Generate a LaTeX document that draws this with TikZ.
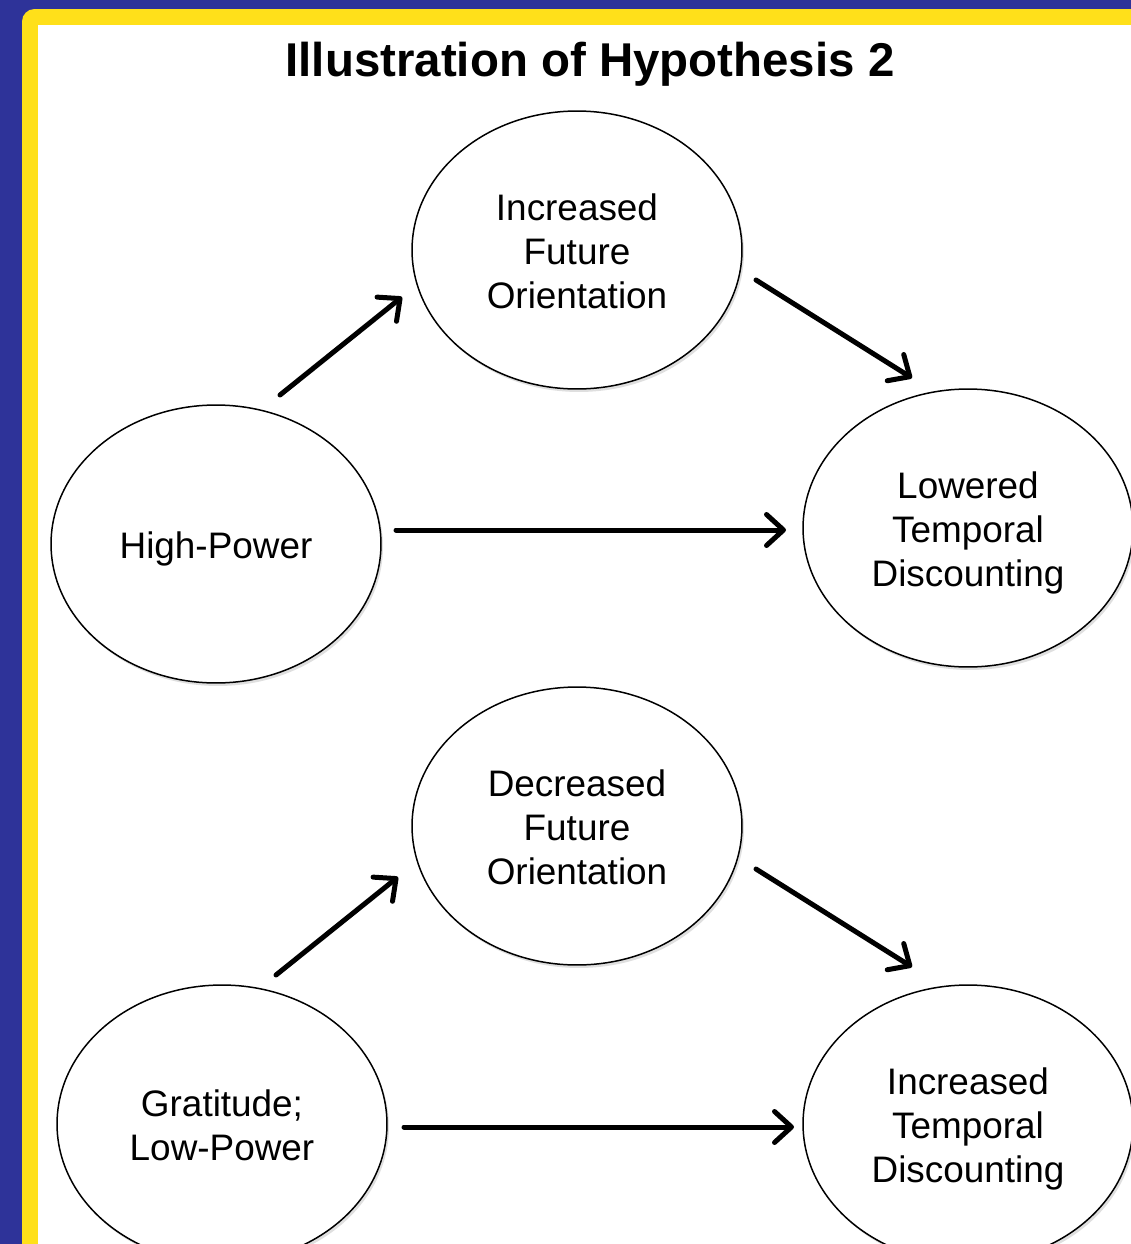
\documentclass[tikz,border=0pt]{standalone}
\usepackage{fontspec}
\setmainfont{Liberation Sans}
\usetikzlibrary{shapes.geometric,arrows.meta,shadows}
\definecolor{bgblue}{HTML}{2E3399}
\definecolor{bgyellow}{HTML}{FFE01A}
\newcommand{\lbl}[1]{\raisebox{-0.12cm}[\height][\depth]{\begin{tabular}{@{}c@{}}#1\end{tabular}}}
\tikzset{
  bubble/.style={ellipse,draw=black,line width=0.85pt,fill=white,minimum width=6.6cm,minimum height=5.56cm,inner sep=0pt,align=center,
    font=\fontsize{21}{25}\selectfont,
    drop shadow={shadow xshift=0.04cm,shadow yshift=-0.06cm,opacity=0.25,fill=black!50}},
  arr/.style={line width=0.1cm,-{Straight Barb[length=0.34cm,width=0.62cm,line cap=round,line join=round]},line cap=round}
}
\begin{document}
\begin{tikzpicture}[x=0.02cm,y=-0.02cm]
\useasboundingbox (0,0) rectangle (1131,1244);
\clip (0,0) rectangle (1131,1244);
\fill[bgblue] (0,0) rectangle (1131,1244);
\fill[bgyellow,rounded corners=0.25cm] (22,9) rectangle (1160,1270);
\fill[white] (38,25) rectangle (1160,1270);
\node[font=\bfseries\fontsize{27}{32}\selectfont] (title) at (590,64) {Illustration of Hypothesis 2};
\node[bubble] (ifo) at (577,250) {\lbl{Increased\\Future\\Orientation}};
\node[bubble] (lt) at (968,528) {\lbl{Lowered\\Temporal\\Discounting}};
\node[bubble] (hp) at (216,544) {\lbl{High-Power}};
\node[bubble] (dfo) at (577,826) {\lbl{Decreased\\Future\\Orientation}};
\node[bubble] (itd) at (968,1124) {\lbl{Increased\\Temporal\\Discounting}};
\node[bubble] (glp) at (222,1124) {\lbl{Gratitude;\\Low-Power}};
\draw[arr] ([shift={(64,-149)}]hp.center) -- ([shift={(-175,47)}]ifo.center);
\draw[arr] ([shift={(179,30)}]ifo.center) -- ([shift={(-56,-150)}]lt.center);
\draw[arr] ([shift={(180,-14)}]hp.center) -- ([shift={(-182,2)}]lt.center);
\draw[arr] ([shift={(54,-149)}]glp.center) -- ([shift={(-179,51)}]dfo.center);
\draw[arr] ([shift={(179,43)}]dfo.center) -- ([shift={(-56,-157)}]itd.center);
\draw[arr] ([shift={(182,3)}]glp.center) -- ([shift={(-174,3)}]itd.center);
\end{tikzpicture}
\end{document}
